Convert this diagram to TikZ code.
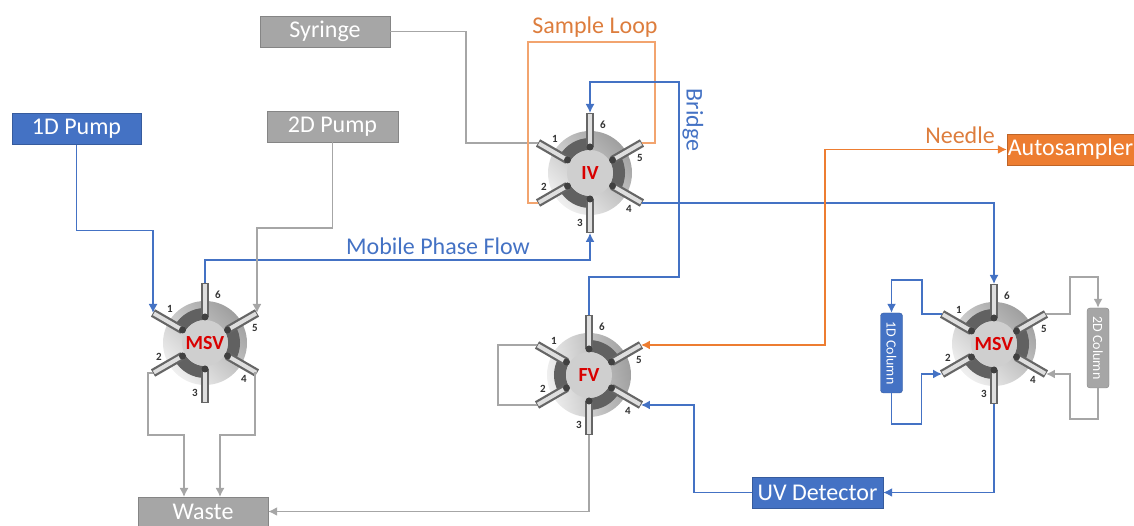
\documentclass[tikz,border=0pt]{standalone}
\usepackage{fontspec}
\setmainfont{Carlito}
\usetikzlibrary{arrows.meta}
\definecolor{pblue}{HTML}{4472C4}
\definecolor{pgray}{HTML}{A6A6A6}
\definecolor{porange}{HTML}{ED7D31}
\tikzset{
  boxlabel/.style={draw=#1!80!black, fill=#1, text=white, font=\fontsize{24}{24}\selectfont, minimum height=31pt, inner sep=0pt},
  collabel/.style={draw=#1!80!black, fill=#1, text=white, rounded corners=3pt, rotate=-90, font=\fontsize{14}{14}\selectfont, minimum width=80pt, minimum height=22pt, inner sep=0pt},
  linelabel/.style={text=#1, font=\fontsize{24}{24}\selectfont, inner sep=0pt},
  pipe/.style={draw=#1, line width=1.5pt},
  tip/.style={-{Latex[length=9pt,width=9pt]}},
  twotips/.style={{Latex[length=9pt,width=9pt]}-{Latex[length=9pt,width=9pt]}},
}
\newcommand{\valve}[5]{
\begin{scope}[shift={(#2)}]
\shade[top color=gray!75, bottom color=gray!12, shading angle=#5] (0,0) circle (42);
\foreach \a in {90,210,330}{
  \draw[line width=12pt, black!62] (\a+#4:29) arc (\a+#4:\a+#4+60:29);
}
\fill[gray!38] (0,0) circle (23);
\foreach \n/\a/\lx/\ly in {1/150/-35/34, 2/210/-46/-14, 3/270/-10/-50, 4/330/39/-36, 5/30/50/15, 6/90/13/48}{
  \draw[line width=8.5pt, black!60] (\a:26) -- (\a:60);
  \draw[line width=4pt, gray!25] (\a:28) -- (\a:59);
  \fill[black!75] (\a:26) circle (3.5);
  \coordinate (#1-p\n) at (\a:60);
  \node[font=\bfseries\fontsize{11}{11}\selectfont, text=black!80] (#1-n\n) at (\lx,\ly) {\n};
}
\node[font=\bfseries\fontsize{20}{20}\selectfont, text=red!85!black] (#1-name) at (0,0) {#3};
\end{scope}
}
\begin{document}
\begin{tikzpicture}[x=1pt,y=1pt]
\useasboundingbox (0,0) rectangle (1134,526);
\valve{iv}{590,353}{IV}{0}{-45}
\valve{msvl}{205,183}{MSV}{0}{-45}
\valve{fv}{589,151}{FV}{60}{-80}
\valve{msvr}{994,182}{MSV}{0}{-45}
\node[boxlabel=pgray, minimum width=130pt] (syringe) at (325,494.5) {Syringe};
\node[boxlabel=pblue, minimum width=129pt] (pumpa) at (76.5,397) {1D Pump};
\node[boxlabel=pgray, minimum width=131pt] (pumpb) at (332.5,399.5) {2D Pump};
\node[boxlabel=porange, minimum width=127pt] (autosampler) at (1070.5,376.5) {Autosampler};
\node[boxlabel=pgray, minimum width=130pt, minimum height=29pt] (waste) at (203,14.5) {Waste};
\node[boxlabel=pblue, minimum width=131pt] (uvdet) at (817.5,33.5) {UV Detector};
\node[collabel=pblue] (cola) at (891.5,173) {1D Column};
\node[collabel=pgray] (colb) at (1098,178) {2D Column};
\node[linelabel=porange!85!gray] (looplabel) at (595,499) {Sample Loop};
\node[linelabel=porange!85!gray] (needlelabel) at (960,391) {Needle};
\node[linelabel=pblue, rotate=-90] (bridgelabel) at (693,406) {Bridge};
\node[linelabel=pblue] (flowlabel) at (438,280) {Mobile Phase Flow};
\coordinate (wastea) at (184,29);
\coordinate (wasteb) at (220,29);
\draw[pipe=pgray] (syringe.east) -- ++(76,0) |- (iv-p1);
\draw[pipe=porange!70] (iv-p2) -| (528,484) -- (655,484) |- (iv-p5);
\draw[pipe=pblue, tip] (fv-p6) |- (679,249) -- (679,444) -| (iv-p6);
\draw[pipe=pblue, tip] (msvl-p6) -- ++(0,23) -| (iv-p3);
\draw[pipe=pblue, tip] (iv-p4) -| (msvr-p6);
\draw[pipe=pblue, tip] (pumpa.south) -- ++(0,-86) -| (msvl-p1);
\draw[pipe=pgray, tip] (pumpb.south) -- ++(0,-86) -| (msvl-p5);
\draw[pipe=pgray, tip] (msvl-p2) -- ++(-5,0) -- ++(0,-62) -| (wastea);
\draw[pipe=pgray, tip] (msvl-p4) -- ++(-2,0) -- ++(0,-62) -| (wasteb);
\draw[pipe=porange, twotips] (fv-p5) -- ++(184,0) |- (autosampler.west);
\draw[pipe=pblue, tip] (uvdet.west) -- ++(-58,0) |- (fv-p4);
\draw[pipe=pblue, tip] (msvr-p3) |- (uvdet.east);
\draw[pipe=pgray, tip] (fv-p3) |- (waste.east);
\draw[pipe=pgray] (fv-p1) -- ++(-39,0) |- (fv-p2);
\draw[pipe=pblue, tip] (msvr-p1) -- ++(-20,0) -- ++(0,34) -| (cola.west);
\draw[pipe=pblue, tip] (cola.east) -- ++(0,-31) -- ++(30,0) |- (msvr-p2);
\draw[pipe=pgray, tip] (msvr-p5) -- ++(24,0) -- ++(0,37) -| (colb.west);
\draw[pipe=pgray, tip] (colb.east) -- ++(0,-31) -- ++(-28,0) |- (msvr-p4);
\end{tikzpicture}
\end{document}
